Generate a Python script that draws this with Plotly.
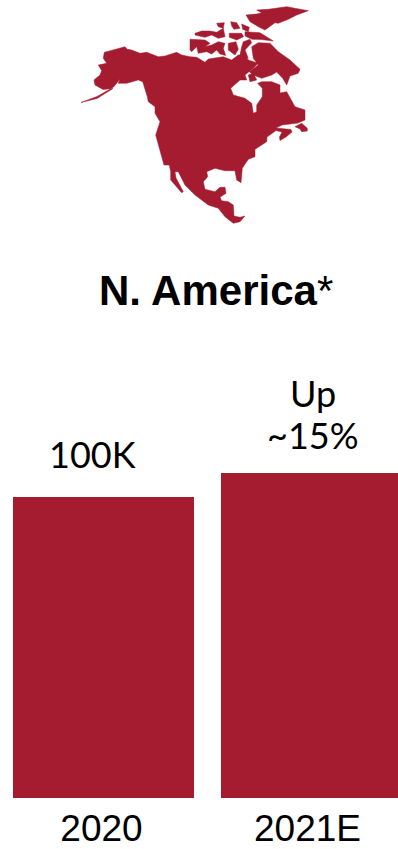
import plotly.graph_objects as go

WIDTH, HEIGHT = 398, 849
CRIMSON = "#A51B2F"

years = ["2020", "2021E"]
units_thousands = [100, 108]
bar_labels = ["100K", "~15%"]
change_word = "Up"
region_title = "<b>N. America</b>*"

# Outline of the continent, in sketch units on a 398 x 849 canvas
mainland = [
    (81, 102.5), (97, 98.5), (113, 88.5), (103, 89.5), (95, 85), (94, 80), (100, 75), (101.7, 70.7), (98.3, 65),
    (106.7, 63.3), (103.3, 58.3), (104.3, 52.3), (109.3, 51), (125, 46.7), (127.3, 49.3), (131.7, 50), (140, 53.3),
    (146.7, 52.3), (158.3, 56.7), (165, 56), (176.7, 52.3), (181.7, 55), (190, 56.7), (196.7, 57.3), (205, 62.3),
    (208.3, 59), (223.3, 56.7), (231.7, 60), (238.3, 55), (245, 55), (248.3, 60), (258.3, 63.3), (253.3, 68.3),
    (245, 75), (246.7, 80), (240, 80), (230.7, 88.3), (233.3, 95), (245, 98.3), (251.7, 103.3), (253.3, 113.3),
    (256.7, 111.7), (256.7, 105), (262.3, 96.7), (262.3, 88.3), (257.7, 83.3), (261.7, 81.7), (271.7, 81.7),
    (280, 85), (280, 93), (286.7, 91.7), (290, 98.3), (295, 106.7), (305, 110), (305, 120), (298, 123), (290, 124),
    (282, 125), (276, 128), (283, 128.5), (291, 129.5), (292, 132), (286, 137), (280, 140.5), (279.5, 137),
    (282, 132), (276, 130.5), (267, 137), (266.7, 141.7), (255, 149.3), (255, 156.7), (248.3, 159.3),
    (242.3, 168.3), (241, 182.7), (236.7, 180), (235, 170.7), (225, 170.7), (215, 168.3), (206.7, 171.7),
    (207.7, 176.7), (203.3, 181.7), (205, 189.3), (215, 191.7), (220, 187.3), (225, 187.3), (226, 193.3),
    (220, 197.3), (221.7, 200.7), (228.3, 201.7), (233.3, 205), (234, 216), (240, 217.3), (245, 216),
    (240, 221.7), (233.3, 223.3), (225, 216.7), (218.3, 208.3), (208.3, 205), (195, 195), (185, 185),
    (178.3, 171.7), (175, 171.7), (176, 178), (183.3, 191.7), (181.7, 192.7), (170.7, 180), (170.7, 171.7),
    (169.3, 165), (164, 165), (155.7, 135), (160, 121.7), (155, 113.3), (155, 106.7), (148.3, 101.7),
    (147.3, 96.7), (142.7, 81.7), (138.3, 80), (126.7, 83.3), (118.3, 83.3), (120, 79.3), (113.3, 87.3),
    (97, 96.5),
]
newfoundland = [(295, 126.7), (301.7, 123.3), (307.3, 128.3), (307.3, 131), (301.7, 131.7), (300, 129)]
southampton = [(248.3, 75), (253.3, 73.3), (256.7, 80), (250, 81.7)]
ellesmere = [
    (246, 15), (256.7, 14), (261.7, 12.7), (256.7, 10), (268.3, 9.3), (286.7, 6.7), (308.3, 10.7), (296.7, 15),
    (288.3, 19.3), (278.3, 23.3), (275, 22.7), (265, 30), (258.3, 26.7), (250, 21.7),
]
devon = [(229.3, 33.3), (241.7, 33.3), (243.5, 36.7), (236.7, 40), (229.3, 37.3)]
bathurst = [(245, 31.7), (260, 32.7), (273.3, 41), (261, 39.5), (252, 39.3), (245, 36)]
melville = [
    (195, 33.3), (201.7, 31), (210, 31), (216.7, 32.3), (223.3, 28.3), (225, 36.7), (218.3, 38.3), (211.7, 35),
    (205, 37.3), (195, 35),
]
victoria = [
    (190, 39.3), (205, 40), (210, 43.3), (205, 46.7), (211.7, 45), (218.3, 41.7), (225, 43.3), (223.3, 48.3),
    (225.7, 55.5), (220, 54), (216.7, 50), (211.7, 54), (206.7, 51.7), (198.3, 53.3), (196.7, 46.7), (191.7, 51.7),
    (190, 50),
]
prince_patrick = [(216.7, 23.3), (224.3, 22.7), (223.3, 28.3), (218.3, 26.7)]
cornwallis = [(230.7, 21.7), (236.7, 22.7), (240, 28.3), (234, 29.3), (231.7, 26)]
axel = [(241.7, 24), (249.3, 27.3), (248.3, 31.7), (242.7, 29.3)]
somerset = [(228.3, 43.3), (236, 41.7), (238.3, 49.3), (235, 55), (228.3, 50)]
boothia = [(243.3, 41.7), (250, 39.3), (251.7, 42.7), (245, 50), (248.3, 58.3), (240, 55), (241.7, 46.7)]
baffin = [
    (251.7, 46.7), (258.3, 42.7), (270, 43.3), (278.3, 51.7), (290, 60), (300, 69.3), (298.3, 73.3), (290, 76),
    (286.7, 85), (282.7, 78.3), (276.7, 72), (271.7, 75), (261.7, 78.3), (253.3, 75), (249.3, 71.7), (258.3, 65),
    (253.3, 58.3),
]
landmasses = [
    mainland, newfoundland, southampton, ellesmere, devon, bathurst, melville, victoria,
    prince_patrick, cornwallis, axel, somerset, boothia, baffin,
]

map_x, map_y = [], []
for polygon in landmasses:
    map_x += [p[0] for p in polygon] + [polygon[0][0], None]
    map_y += [p[1] for p in polygon] + [polygon[0][1], None]

fig = go.Figure()

fig.add_trace(go.Bar(
    x=years,
    y=units_thousands,
    width=[0.8786, 0.8592],
    marker=dict(color=CRIMSON, line=dict(width=0)),
    hoverinfo="skip",
))

fig.add_trace(go.Scatter(
    x=map_x,
    y=map_y,
    xaxis="x2",
    yaxis="y2",
    mode="lines",
    fill="toself",
    fillcolor=CRIMSON,
    line=dict(color=CRIMSON, width=0.5),
    hoverinfo="skip",
))

label_font = dict(family="Lato, Carlito, sans-serif", size=36, color="#000000")
tick_font = dict(family="Liberation Sans, Arial, sans-serif", size=37, color="#000000")

# Category positions are given by index so "2020" is not read as a number
fig.add_annotation(x=0, y=units_thousands[0], text=bar_labels[0], showarrow=False,
                   xref="x", yref="y", yanchor="bottom", xshift=-11, yshift=19, font=label_font)
fig.add_annotation(x=1, y=units_thousands[1], text=bar_labels[1], showarrow=False,
                   xref="x", yref="y", yanchor="bottom", xshift=3, yshift=14, font=label_font)
fig.add_annotation(x=1, y=units_thousands[1], text=change_word, showarrow=False,
                   xref="x", yref="y", yanchor="bottom", xshift=3, yshift=56, font=label_font)
fig.add_annotation(x=216, y=290, xref="x2", yref="y2", text=region_title, showarrow=False,
                   font=dict(family="Liberation Sans, Arial, sans-serif", size=42, color="#000000"))

fig.update_layout(
    width=WIDTH,
    height=HEIGHT,
    margin=dict(l=0, r=0, t=0, b=0),
    paper_bgcolor="white",
    plot_bgcolor="rgba(0,0,0,0)",
    showlegend=False,
    xaxis=dict(
        domain=[0, 1],
        type="category",
        categoryorder="array",
        categoryarray=years,
        range=[-0.5024, 1.4296],
        showgrid=False,
        zeroline=False,
        showline=False,
        ticks="",
        tickfont=tick_font,
        ticklabelstandoff=5,
        ticklabelshift=-2,
        automargin=False,
    ),
    yaxis=dict(
        domain=[51 / HEIGHT, 1],
        range=[0, 798 / 3.01],
        visible=False,
    ),
    xaxis2=dict(domain=[0, 1], range=[0, WIDTH], visible=False, anchor="y2"),
    yaxis2=dict(domain=[0, 1], range=[HEIGHT, 0], visible=False, anchor="x2"),
)

fig.write_html("out.html", config=dict(displayModeBar=False))
